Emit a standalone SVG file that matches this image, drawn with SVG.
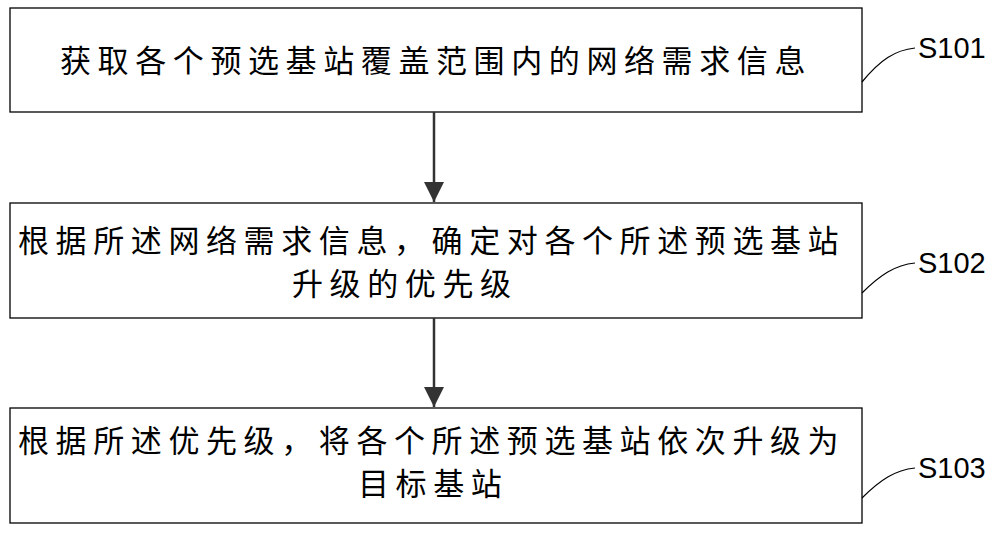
<svg xmlns="http://www.w3.org/2000/svg" width="1000" height="534" viewBox="0 0 1000 534">
<style>
.box{fill:#fff;stroke:#000;stroke-width:1.3}
.t{font-family:"Noto Sans CJK SC",sans-serif;font-size:31px;letter-spacing:6.6px;fill:#000}
.l{font-family:"Liberation Sans",sans-serif;font-size:29px;fill:#000}
.c{fill:none;stroke:#000;stroke-width:1.2}
.a{stroke:#333;stroke-width:2.5}
</style>
<defs><marker id="ah2" viewBox="0 0 10 10" markerWidth="20" markerHeight="22" refX="10" refY="5" orient="auto" markerUnits="userSpaceOnUse"><path d="M0,0 L10,5 L0,10 z" fill="#333"/></marker></defs>
<g id="n1"><rect class="box" x="10" y="8" width="852" height="104"/><text class="t" x="60" y="72">获取各个预选基站覆盖范围内的网络需求信息</text></g>
<g id="n2"><rect class="box" x="10" y="203" width="852" height="115"/><text class="t" x="18" y="252">根据所述网络需求信息，确定对各个所述预选基站</text><text class="t" x="292" y="295">升级的优先级</text></g>
<g id="n3"><rect class="box" x="10" y="408" width="852" height="115"/><text class="t" x="18" y="452">根据所述优先级，将各个所述预选基站依次升级为</text><text class="t" x="358" y="495">目标基站</text></g>
<g id="labels"><path class="c" d="M862,82 C880,60 895,50 915,48"/><text class="l" x="918" y="58">S101</text>
<path class="c" d="M862,293 C880,275 895,265 915,263"/><text class="l" x="918" y="273">S102</text>
<path class="c" d="M862,498 C880,480 895,470 915,468"/><text class="l" x="918" y="478">S103</text></g>
<g id="connectors"><line class="a" x1="434" y1="112" x2="434" y2="202" marker-end="url(#ah2)"/><line class="a" x1="434" y1="318" x2="434" y2="407" marker-end="url(#ah2)"/></g>
</svg>
